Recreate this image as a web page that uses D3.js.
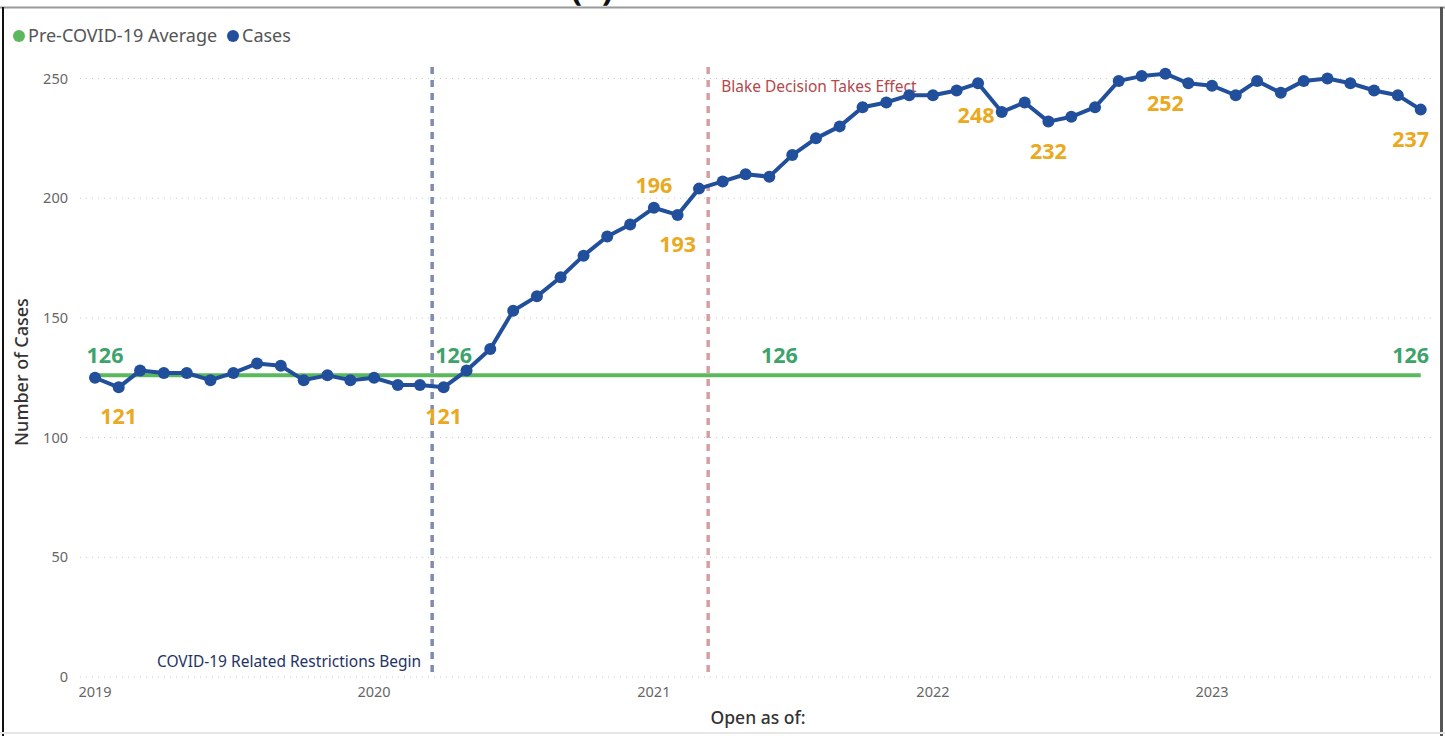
<!DOCTYPE html>
<html>
<head>
<meta charset="utf-8">
<script src="https://cdn.jsdelivr.net/npm/d3@7"></script>
<style>
  body { margin: 0; background: #fff; }
  svg { display: block; font-family: "Segoe UI", "Noto Sans", "Open Sans", sans-serif; }
</style>
</head>
<body>
<div id="chart"></div>
<script>
// monthly open cases, Jan 2019 .. Oct 2023
const months = d3.timeMonths(new Date(2019, 0, 1), new Date(2023, 10, 1));
const cases = [
  125, 121, 128, 127, 127, 124, 127, 131, 130, 124, 126, 124,
  125, 122, 122, 121, 128, 137, 153, 159, 167, 176, 184, 189,
  196, 193, 204, 207, 210, 209, 218, 225, 230, 238, 240, 243,
  243, 245, 248, 236, 240, 232, 234, 238, 249, 251, 252, 248,
  247, 243, 249, 244, 249, 250, 248, 245, 243, 237
];
const preCovidAvg = 126;
const yTicks = [0, 50, 100, 150, 200, 250];
const xTicks = [2019, 2020, 2021, 2022, 2023];

// which case points get an orange label, and on which side
const caseLabels = [
  { i: 1, pos: "below" },
  { i: 15, pos: "below" },
  { i: 24, pos: "above" },
  { i: 25, pos: "below" },
  { i: 38, pos: "belowLeft" },
  { i: 41, pos: "below" },
  { i: 46, pos: "below" },
  { i: 57, pos: "below" }
];
// green average labels, by month index
const avgLabelIdx = [0, 15, 29, 57];

const markers = [
  { date: new Date(2020, 2, 17), text: "COVID-19 Related Restrictions Begin", color: "#7f8bb0", textColor: "#1f3366", side: "left" },
  { date: new Date(2021, 2, 13), text: "Blake Decision Takes Effect", color: "#d69ea0", textColor: "#b5474b", side: "right" }
];

const W = 1445, H = 736;
const svg = d3.select("#chart").append("svg").attr("width", W).attr("height", H);

const x = d3.scaleTime()
  .domain([new Date(2019, 0, 1), new Date(2023, 0, 1)])
  .range([95, 1212]);
const y = d3.scaleLinear().domain([0, 250]).range([677, 78.5]);

// frame
svg.append("line").attr("x1", 0).attr("x2", W).attr("y1", 7.5).attr("y2", 7.5)
  .attr("stroke", "#9a9a9a").attr("stroke-width", 2);
svg.append("line").attr("x1", 3).attr("x2", 3).attr("y1", 7).attr("y2", H)
  .attr("stroke", "#111").attr("stroke-width", 2);
svg.append("line").attr("x1", 1441.5).attr("x2", 1441.5).attr("y1", 7).attr("y2", H)
  .attr("stroke", "#555").attr("stroke-width", 3);
svg.append("line").attr("x1", 0).attr("x2", W).attr("y1", 733).attr("y2", 733)
  .attr("stroke", "#e6e6e6").attr("stroke-width", 2);
// clipped title remnant at the very top (only its lower edge is in view)
svg.append("text").attr("x", 592).attr("y", 0).attr("text-anchor", "middle")
  .attr("font-size", 34).attr("font-weight", 700).attr("fill", "#111").text("(5)");

// legend
const legend = [
  { name: "Pre-COVID-19 Average", color: "#5cb85c", x: 19 },
  { name: "Cases", color: "#214f9c", x: 233 }
];
legend.forEach(l => {
  svg.append("circle").attr("cx", l.x).attr("cy", 36).attr("r", 6).attr("fill", l.color);
  svg.append("text").attr("x", l.x + 9).attr("y", 42).attr("font-size", 18)
    .attr("fill", "#555").text(l.name);
});

// y grid + labels
const yAxis = svg.append("g");
yTicks.forEach(t => {
  yAxis.append("line").attr("x1", 80).attr("x2", 1435).attr("y1", y(t)).attr("y2", y(t))
    .attr("stroke", "#c8c8c8").attr("stroke-width", 1).attr("stroke-dasharray", "1,5");
  yAxis.append("text").attr("x", 68).attr("y", y(t) + 5).attr("text-anchor", "end")
    .attr("font-size", 14.5).attr("fill", "#666").text(t);
});

// x labels
xTicks.forEach(yr => {
  svg.append("text").attr("x", x(new Date(yr, 0, 1))).attr("y", 697).attr("text-anchor", "middle")
    .attr("font-size", 14.5).attr("fill", "#666").text(yr);
});

// axis titles
svg.append("text").attr("transform", "translate(28,372) rotate(-90)").attr("text-anchor", "middle")
  .attr("font-size", 18).attr("font-weight", 500).attr("fill", "#333").text("Number of Cases");
svg.append("text").attr("x", 758).attr("y", 724).attr("text-anchor", "middle")
  .attr("font-size", 17.5).attr("font-weight", 500).attr("fill", "#333").text("Open as of:");

// marker lines
markers.forEach(m => {
  const mx = x(m.date);
  svg.append("line").attr("x1", mx).attr("x2", mx).attr("y1", 67).attr("y2", 672)
    .attr("stroke", m.color).attr("stroke-width", 3.5).attr("stroke-dasharray", "7,6");
  if (m.side === "left") {
    svg.append("text").attr("x", mx - 11).attr("y", 667).attr("text-anchor", "end")
      .attr("font-size", 15.5).attr("fill", m.textColor).text(m.text);
  } else {
    svg.append("text").attr("x", mx + 13).attr("y", 92).attr("text-anchor", "start")
      .attr("font-size", 15.5).attr("fill", m.textColor).text(m.text);
  }
});

// average line
svg.append("line")
  .attr("x1", x(months[0])).attr("x2", x(months[months.length - 1]))
  .attr("y1", y(preCovidAvg)).attr("y2", y(preCovidAvg))
  .attr("stroke", "#5cb85c").attr("stroke-width", 4);

// cases line
const line = d3.line().x((d, i) => x(months[i])).y(d => y(d));
svg.append("path").datum(cases).attr("d", line)
  .attr("fill", "none").attr("stroke", "#214f9c").attr("stroke-width", 4)
  .attr("stroke-linejoin", "round");
svg.append("g").selectAll("circle").data(cases).join("circle")
  .attr("cx", (d, i) => x(months[i])).attr("cy", d => y(d)).attr("r", 6)
  .attr("fill", "#214f9c");

// green labels
avgLabelIdx.forEach((i, k) => {
  const dx = k === avgLabelIdx.length - 1 ? -10 : 10;
  svg.append("text").attr("x", x(months[i]) + dx).attr("y", y(preCovidAvg) - 12)
    .attr("text-anchor", "middle").attr("font-size", 21.5).attr("font-weight", 700)
    .attr("fill", "#3ea36b").text(preCovidAvg);
});

// orange labels
caseLabels.forEach(l => {
  const cx = x(months[l.i]), cy = y(cases[l.i]);
  let tx = cx, ty = cy + 37;
  if (l.pos === "above") ty = cy - 15;
  if (l.pos === "belowLeft") { tx = cx - 2; ty = cy + 40; }
  if (l.i === 57) tx = cx - 10;
  svg.append("text").attr("x", tx).attr("y", ty).attr("text-anchor", "middle")
    .attr("font-size", 21.5).attr("font-weight", 700).attr("fill", "#eaa920").text(cases[l.i]);
});
</script>
</body>
</html>
